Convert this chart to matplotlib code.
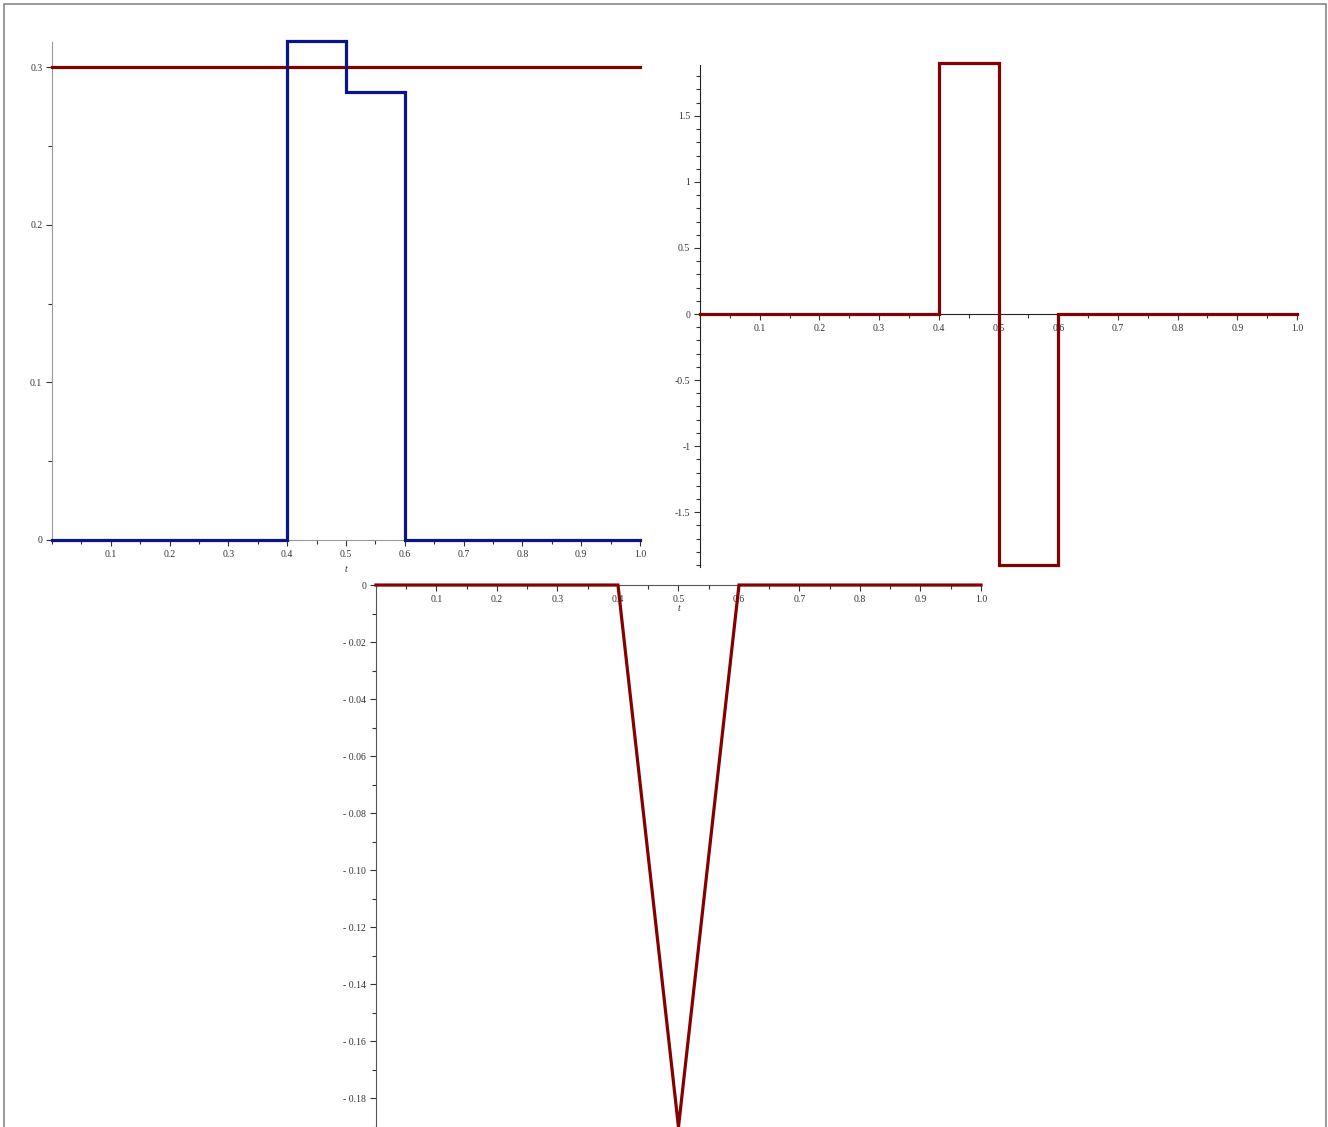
import matplotlib.pyplot as plt
from matplotlib.patches import Rectangle
from matplotlib.ticker import MultipleLocator, FixedLocator
import numpy as np

plt.rcParams['font.family'] = ['Liberation Serif', 'DejaVu Serif']
plt.rcParams['axes.unicode_minus'] = False

#%%
# data
t_step = [0.0, 0.4, 0.4, 0.5, 0.5, 0.6, 0.6, 1.0]
blue_step = [0.0, 0.0, 0.3166, 0.3166, 0.2841, 0.2841, 0.0, 0.0]
red_const_t = [0.0, 1.0]
red_const = [0.3, 0.3]

t_rect = [0.0, 0.4, 0.4, 0.5, 0.5, 0.6, 0.6, 1.0]
rect_vals = [0.0, 0.0, 1.90, 1.90, -1.90, -1.90, 0.0, 0.0]

t_vee = [0.0, 0.4, 0.5, 0.6, 1.0]
vee_vals = [0.0, 0.0, -0.19, 0.0, 0.0]

blue = '#0a148c'
red = '#850000'
lw = 2.3
xticks = [0.1, 0.2, 0.3, 0.4, 0.5, 0.6, 0.7, 0.8, 0.9, 1.0]
xticklabels = ['0.1', '0.2', '0.3', '0.4', '0.5', '0.6', '0.7', '0.8', '0.9', '1.0']
fs = 7

fig = plt.figure(figsize=(13.28, 11.27), dpi=100)
fig.patches.append(Rectangle((0.003, -0.01), 0.9955, 1.0065, transform=fig.transFigure,
                             fill=False, edgecolor='#888888', linewidth=1.2))


def maple_axes(ax, spine_col='#555555'):
    for s in ['top', 'right']:
        ax.spines[s].set_visible(False)
    ax.spines['left'].set_position(('data', 0))
    ax.spines['bottom'].set_position(('data', 0))
    ax.spines['left'].set_color(spine_col)
    ax.spines['bottom'].set_color(spine_col)
    ax.set_xlim(0, 1.0)
    ax.xaxis.set_major_locator(FixedLocator(xticks))
    ax.set_xticklabels(xticklabels)
    ax.xaxis.set_minor_locator(MultipleLocator(0.05))
    ax.tick_params(which='both', direction='out', labelsize=fs, colors='#333333',
                   length=4, width=0.8, pad=3)
    ax.tick_params(which='minor', length=3)
    ax.patch.set_alpha(0)


line_kw = dict(lw=lw, solid_joinstyle='miter', clip_on=False, zorder=5)

#%%
# top left
ax1 = fig.add_axes([0.0392, 0.5209, 0.4427, 0.4418])
ax1.plot(red_const_t, red_const, color=red, **line_kw)
ax1.plot(t_step, blue_step, color=blue, **line_kw)
maple_axes(ax1, '#999999')
ax1.set_ylim(0, 0.3159)
ax1.yaxis.set_major_locator(FixedLocator([0, 0.1, 0.2, 0.3]))
ax1.set_yticklabels(['0', '0.1', '0.2', '0.3'])
ax1.yaxis.set_minor_locator(MultipleLocator(0.05))
ax1.text(0.5, -0.016, 't', style='italic', fontsize=fs, ha='center', va='top', color='#333333')

#%%
# top right
ax2 = fig.add_axes([0.5271, 0.4969, 0.4496, 0.4454])
ax2.plot(t_rect, rect_vals, color=red, **line_kw)
maple_axes(ax2, '#222222')
ax2.set_ylim(-1.915, 1.885)
ax2.yaxis.set_major_locator(FixedLocator([-1.5, -1, -0.5, 0, 0.5, 1, 1.5]))
ax2.set_yticklabels(['-1.5', '-1', '-0.5', '0', '0.5', '1', '1.5'])
ax2.yaxis.set_minor_locator(MultipleLocator(0.1))
ax2.text(0.5, -0.17, 't', style='italic', fontsize=fs, ha='center', va='top', color='#333333')

#%%
# bottom
ax3 = fig.add_axes([0.2831, 0.0, 0.4556, 0.4809])
ax3.plot(t_vee, vee_vals, color=red, **line_kw)
maple_axes(ax3, '#555555')
ax3.set_ylim(-0.19, 0)
yt = [-0.18, -0.16, -0.14, -0.12, -0.10, -0.08, -0.06, -0.04, -0.02, 0]
ax3.yaxis.set_major_locator(FixedLocator(yt))
ax3.set_yticklabels(['- %.2f' % abs(v) if v != 0 else '0' for v in yt])
ax3.yaxis.set_minor_locator(MultipleLocator(0.01))
ax3.text(0.5, -0.0065, 't', style='italic', fontsize=fs, ha='center', va='top', color='#333333')

plt.savefig('out.png', dpi=100)
